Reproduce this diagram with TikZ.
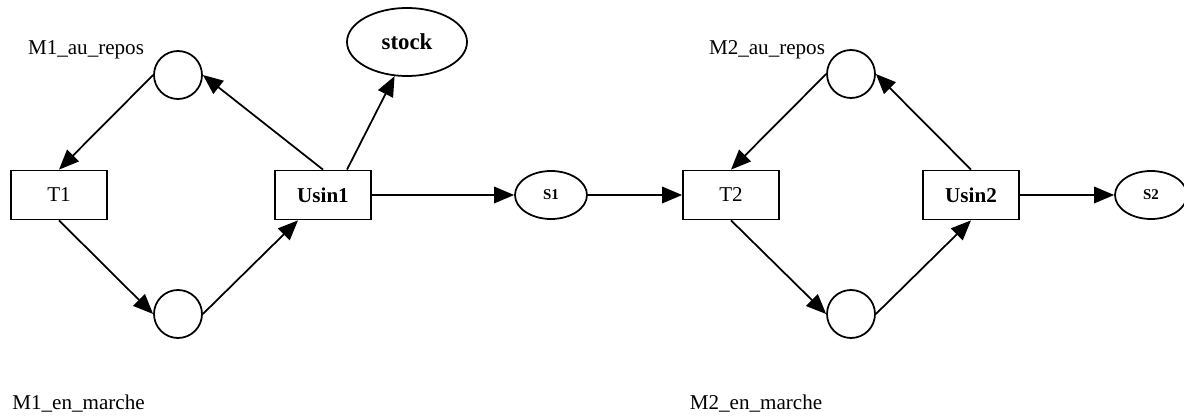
\documentclass[tikz,border=0pt]{standalone}
\usepackage{fontspec}
\setmainfont{Liberation Serif}
\usetikzlibrary{arrows.meta,shapes.geometric}

\begin{document}
\begin{tikzpicture}[
    place/.style={draw, circle, line width=1pt, minimum size=0.96cm, inner sep=0pt},
    trans/.style={draw, rectangle, line width=1pt, minimum width=1.92cm, minimum height=0.98cm, inner sep=0pt, font=\fontsize{12}{14}\selectfont},
    buffer/.style={draw, ellipse, line width=1pt, minimum width=1.44cm, minimum height=0.96cm, inner sep=0pt, font=\fontsize{8.5}{10}\selectfont\bfseries},
    arc/.style={line width=1pt, -{Triangle[length=0.4cm,width=0.33cm]}},
    lbl/.style={font=\fontsize{12}{14}\selectfont}
]
    \useasboundingbox (0,0) rectangle (23.68,8.34);

    % Machine 1
    \node[place] (rep1) at (3.56,6.84) {};
    \node[place] (marche1) at (3.56,2.06) {};
    \node[trans] (T1) at (1.18,4.44) {T1};
    \node[trans, font=\fontsize{12}{14}\selectfont\bfseries] (U1) at (6.46,4.44) {Usin1};
    \node[draw, ellipse, line width=1pt, minimum width=2.4cm, minimum height=1.36cm, inner sep=0pt,
          font=\fontsize{13}{15}\selectfont\bfseries] (stock) at (8.14,7.5) {stock};
    \node[lbl] (lrep1) at (1.72,7.34) {M1\_au\_repos};
    \node[lbl] (lmarche1) at (1.57,0.26) {M1\_en\_marche};

    % Buffers
    \node[buffer] (s1) at (11.02,4.44) {S1};
    \node[buffer] (s2) at (23.02,4.44) {S2};

    % Machine 2
    \node[place] (rep2) at (17.02,6.86) {};
    \node[place] (marche2) at (17.02,2.06) {};
    \node[trans] (T2) at (14.62,4.44) {T2};
    \node[trans, font=\fontsize{12}{14}\selectfont\bfseries] (U2) at (19.42,4.44) {Usin2};
    \node[lbl] (lrep2) at (15.34,7.34) {M2\_au\_repos};
    \node[lbl] (lmarche2) at (15.12,0.26) {M2\_en\_marche};

    % Arcs of machine 1
    \draw[arc] (rep1.west) -- (T1.north);
    \draw[arc] (T1.south) -- (marche1.west);
    \draw[arc] (marche1.east) -- ([xshift=-0.5cm]U1.south);
    \draw[arc] (U1.north) -- (rep1.east);
    \draw[arc] ([xshift=0.48cm]U1.north) -- (stock.250);
    \draw[arc] (U1.east) -- (s1.west);

    % Arcs of machine 2
    \draw[arc] (s1.east) -- (T2.west);
    \draw[arc] (rep2.west) -- (T2.north);
    \draw[arc] (T2.south) -- (marche2.west);
    \draw[arc] (marche2.east) -- (U2.south);
    \draw[arc] (U2.north) -- (rep2.east);
    \draw[arc] (U2.east) -- (s2.west);
\end{tikzpicture}
\end{document}
